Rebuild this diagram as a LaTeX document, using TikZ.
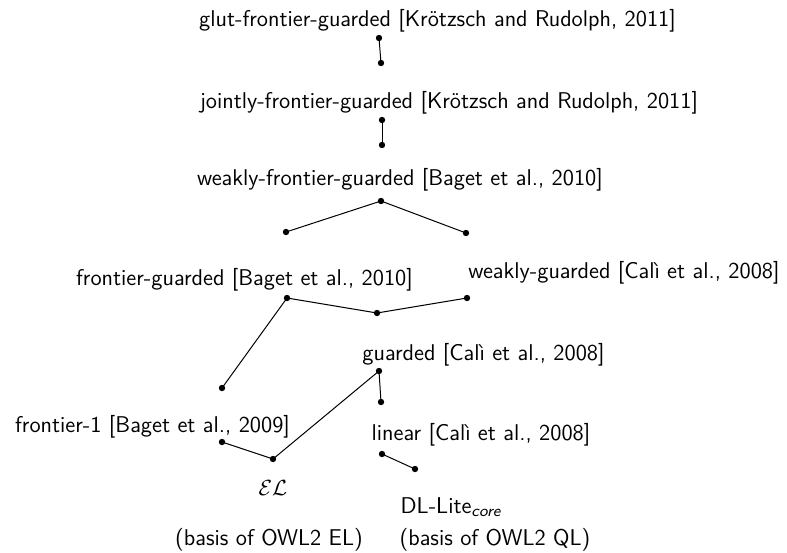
\documentclass[tikz,border=0pt]{standalone}
\begin{document}
\begin{tikzpicture}[x=0.5pt,y=-0.5pt,
  lbl/.style={font=\sffamily\fontsize{11.4}{13}\selectfont, inner sep=0pt, anchor=base},
  pt/.style={circle, fill=black, inner sep=0pt, minimum size=3.2pt},
  edge/.style={draw=black, line width=0.5pt}]
\useasboundingbox (0,0) rectangle (787,552);
% labels
\node[lbl] (glut) at (437.5,26) {glut-frontier-guarded [Krötzsch and Rudolph, 2011]};
\node[lbl] (joint) at (449,108.5) {jointly-frontier-guarded [Krötzsch and Rudolph, 2011]};
\node[lbl] (wfg) at (400,185.5) {weakly-frontier-guarded [Baget et al., 2010]};
\node[lbl] (fg) at (244.5,285) {frontier-guarded [Baget et al., 2010]};
\node[lbl] (wg) at (624,278) {weakly-guarded [Calì et al., 2008]};
\node[lbl] (g) at (483.5,360) {guarded [Calì et al., 2008]};
\node[lbl] (f1) at (152.5,432) {frontier-1 [Baget et al., 2009]};
\node[lbl] (lin) at (481,440) {linear [Calì et al., 2008]};
\node[lbl] (el) at (273,495) {$\mathcal{EL}$};
\node[lbl] (dl) at (451,513) {DL-Lite\textsubscript{\slshape core}};
\node[lbl] (bel) at (269,545) {(basis of OWL2 EL)};
\node[lbl] (bql) at (495,545) {(basis of OWL2 QL)};
% dots
\node[pt] (d1) at (379,38) {};
\node[pt] (d2) at (381,63) {};
\node[pt] (d3) at (382,120) {};
\node[pt] (d4) at (382,145) {};
\node[pt] (d5) at (381,201) {};
\node[pt] (d6) at (286,232) {};
\node[pt] (d7) at (466,233) {};
\node[pt] (d8) at (287,298) {};
\node[pt] (d9) at (377,313) {};
\node[pt] (d10) at (467,298) {};
\node[pt] (d11) at (222,388) {};
\node[pt] (d12) at (379,371) {};
\node[pt] (d13) at (381,402) {};
\node[pt] (d14) at (222,442) {};
\node[pt] (d15) at (273,459) {};
\node[pt] (d16) at (382,454) {};
\node[pt] (d17) at (415,469) {};
% edges
\draw[edge] (d1.center) -- (d2.center);
\draw[edge] (d3.center) -- (d4.center);
\draw[edge] (d6.center) -- (d5.center) -- (d7.center);
\draw[edge] (d8.center) -- (d9.center) -- (d10.center);
\draw[edge] (d8.center) -- (d11.center);
\draw[edge] (d12.center) -- (d13.center);
\draw[edge] (d14.center) -- (d15.center) -- (d12.center);
\draw[edge] (d16.center) -- (d17.center);
\end{tikzpicture}
\end{document}
